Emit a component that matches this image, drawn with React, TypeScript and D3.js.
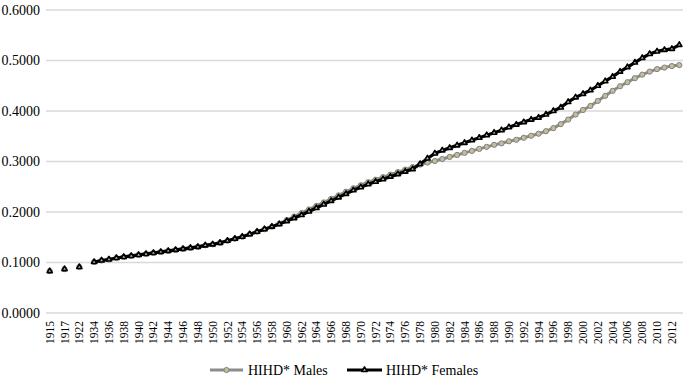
import React, { useEffect, useRef } from 'react';
import * as d3 from 'd3';

// categories: a few early years (some empty), then yearly from 1934
const years: string[] = ['1915', '1916', '1917', '1921', '1922', '1933'].concat(
  d3.range(1934, 2014).map(String)
);

const earlyMales: (number | null)[] = [0.083, null, 0.087, null, 0.091, null];
const earlyFemales: (number | null)[] = [0.083, null, 0.087, null, 0.091, null];

// 1934 .. 2013
const males: number[] = [
  0.101, 0.104, 0.106, 0.109, 0.111, 0.113, 0.115, 0.117, 0.119, 0.121,
  0.123, 0.125, 0.127, 0.129, 0.131, 0.134, 0.136, 0.139, 0.143, 0.147,
  0.151, 0.156, 0.161, 0.166, 0.171, 0.177, 0.184, 0.191, 0.198, 0.205,
  0.212, 0.219, 0.226, 0.233, 0.240, 0.247, 0.253, 0.259, 0.264, 0.269,
  0.274, 0.279, 0.284, 0.289, 0.294, 0.298, 0.301, 0.305, 0.309, 0.313,
  0.317, 0.321, 0.325, 0.329, 0.333, 0.336, 0.340, 0.343, 0.347, 0.351,
  0.355, 0.360, 0.366, 0.374, 0.383, 0.393, 0.402, 0.410, 0.420, 0.430,
  0.440, 0.449, 0.457, 0.465, 0.472, 0.478, 0.483, 0.486, 0.489, 0.491,
];

const females: number[] = [
  0.101, 0.104, 0.106, 0.109, 0.111, 0.113, 0.115, 0.117, 0.119, 0.121,
  0.123, 0.125, 0.127, 0.129, 0.131, 0.134, 0.136, 0.139, 0.143, 0.147,
  0.151, 0.156, 0.161, 0.166, 0.171, 0.176, 0.182, 0.188, 0.194, 0.201,
  0.208, 0.215, 0.222, 0.229, 0.236, 0.243, 0.249, 0.255, 0.260, 0.265,
  0.270, 0.275, 0.280, 0.285, 0.295, 0.306, 0.316, 0.322, 0.327, 0.332,
  0.337, 0.342, 0.347, 0.352, 0.357, 0.362, 0.368, 0.373, 0.378, 0.383,
  0.387, 0.393, 0.400, 0.407, 0.418, 0.427, 0.434, 0.441, 0.450, 0.459,
  0.468, 0.478, 0.487, 0.496, 0.505, 0.513, 0.518, 0.521, 0.523, 0.531,
];

const yTicks: number[] = [0, 0.1, 0.2, 0.3, 0.4, 0.5, 0.6];
const seriesNames: string[] = ['HIHD* Males', 'HIHD* Females'];

const FONT = "'Times New Roman', 'Liberation Serif', 'DejaVu Serif', serif";
const TAN = '#c4bd97';

const App = () => {
  const svgRef = useRef<SVGSVGElement>(null);

  useEffect(() => {
    const width = 685;
    const height = 379;
    const margin = { top: 10, right: 2, bottom: 66, left: 46 };

    const svg = d3.select(svgRef.current)
      .attr('width', width)
      .attr('height', height);
    svg.selectAll('*').remove();

    const x = d3.scaleBand<string>()
      .domain(years)
      .range([margin.left, width - margin.right])
      .padding(0);
    const cx = (c: string) => (x(c) as number) + x.bandwidth() / 2;

    const y = d3.scaleLinear()
      .domain([0, 0.6])
      .range([height - margin.bottom, margin.top]);

    // gridlines
    svg.append('g')
      .selectAll('line')
      .data(yTicks)
      .enter().append('line')
      .attr('x1', margin.left)
      .attr('x2', width - margin.right)
      .attr('y1', d => y(d))
      .attr('y2', d => y(d))
      .attr('stroke', '#d9d9d9')
      .attr('stroke-width', 1.5);

    // y labels
    svg.append('g')
      .selectAll('text')
      .data(yTicks)
      .enter().append('text')
      .attr('x', 40)
      .attr('y', d => y(d))
      .attr('dy', '0.35em')
      .attr('text-anchor', 'end')
      .attr('font-size', 14)
      .attr('fill', '#000')
      .text(d => d.toFixed(4));

    // x labels, every other category
    svg.append('g')
      .selectAll('text')
      .data(years.filter((_, i) => i % 2 === 0))
      .enter().append('text')
      .attr('transform', d => `translate(${cx(d)},${height - margin.bottom + 8}) rotate(-90)`)
      .attr('dy', '0.35em')
      .attr('text-anchor', 'end')
      .attr('font-size', 11.5)
      .attr('fill', '#000')
      .text(d => d);

    const maleData = years.map((c, i) => ({ c, v: i < 6 ? earlyMales[i] : males[i - 6] }));
    const femaleData = years.map((c, i) => ({ c, v: i < 6 ? earlyFemales[i] : females[i - 6] }));

    const line = d3.line<{ c: string; v: number | null }>()
      .defined(d => d.v != null)
      .x(d => cx(d.c))
      .y(d => y(d.v as number));

    // males
    svg.append('path')
      .datum(maleData)
      .attr('d', line)
      .attr('fill', 'none')
      .attr('stroke', '#8c8c8c')
      .attr('stroke-width', 3);
    svg.append('g')
      .selectAll('circle')
      .data(maleData.filter(d => d.v != null))
      .enter().append('circle')
      .attr('cx', d => cx(d.c))
      .attr('cy', d => y(d.v as number))
      .attr('r', 2.6)
      .attr('fill', TAN)
      .attr('stroke', '#808080')
      .attr('stroke-width', 1);

    // females
    const tri = d3.symbol().type(d3.symbolTriangle).size(12);
    svg.append('path')
      .datum(femaleData)
      .attr('d', line)
      .attr('fill', 'none')
      .attr('stroke', '#000')
      .attr('stroke-width', 3.2);
    svg.append('g')
      .selectAll('path')
      .data(femaleData.filter(d => d.v != null))
      .enter().append('path')
      .attr('d', tri)
      .attr('transform', d => `translate(${cx(d.c)},${y(d.v as number)})`)
      .attr('fill', TAN)
      .attr('stroke', '#000')
      .attr('stroke-width', 1.6)
      .attr('stroke-linejoin', 'round');

    // legend
    const ly = 370;
    const lg = svg.append('g');
    lg.append('line')
      .attr('x1', 210).attr('x2', 243).attr('y1', ly).attr('y2', ly)
      .attr('stroke', '#8c8c8c').attr('stroke-width', 3);
    lg.append('circle')
      .attr('cx', 226.5).attr('cy', ly).attr('r', 2.6)
      .attr('fill', TAN).attr('stroke', '#808080');
    lg.append('text')
      .attr('x', 248).attr('y', ly).attr('dy', '0.35em')
      .attr('font-size', 14)
      .text(seriesNames[0]);
    lg.append('line')
      .attr('x1', 347).attr('x2', 382).attr('y1', ly).attr('y2', ly)
      .attr('stroke', '#000').attr('stroke-width', 3.2);
    lg.append('path')
      .attr('d', tri)
      .attr('transform', `translate(364.5,${ly})`)
      .attr('fill', TAN).attr('stroke', '#000').attr('stroke-width', 1.6)
      .attr('stroke-linejoin', 'round');
    lg.append('text')
      .attr('x', 386).attr('y', ly).attr('dy', '0.35em')
      .attr('font-size', 14)
      .text(seriesNames[1]);
  }, []);

  return (
    <svg
      ref={svgRef}
      style={{ position: 'absolute', left: 0, top: 0, background: '#fff', fontFamily: FONT }}
    />
  );
};

export default App;
